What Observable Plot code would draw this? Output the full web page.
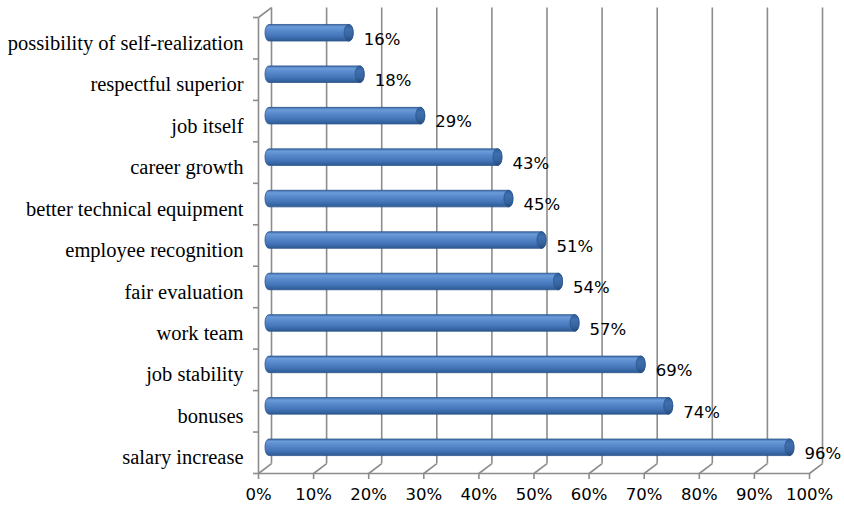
<!DOCTYPE html>
<html>
<head>
<meta charset="utf-8">
<script src="https://cdn.jsdelivr.net/npm/d3@7"></script>
<script src="https://cdn.jsdelivr.net/npm/@observablehq/plot@0.6"></script>
<style>
  html, body { margin: 0; padding: 0; background: #fff; }
</style>
</head>
<body>
<div id="chart"></div>
<script>
// Data (bottom to top)
const categories = [
  "salary increase",
  "bonuses",
  "job stability",
  "work team",
  "fair evaluation",
  "employee recognition",
  "better technical equipment",
  "career growth",
  "job itself",
  "respectful superior",
  "possibility of self-realization"
];
const values = [96, 74, 69, 57, 54, 51, 45, 43, 29, 18, 16];
const xTicks = [0, 10, 20, 30, 40, 50, 60, 70, 80, 90, 100];
const yTicks = d3.range(0, categories.length + 1);

const data = categories.map((c, i) => ({category: c, value: values[i], pos: i}));

// 3D depth offset, in scale units
const DX = 2.36;  // along x
const DY = 0.24;  // along y
const N = categories.length;

const grid = "#8c8c8c";

const chart = Plot.plot({
  width: 844,
  height: 513,
  marginLeft: 258,
  marginRight: 35,
  marginTop: 17,
  marginBottom: 40,
  x: {domain: [0, 100]},
  y: {domain: [0, N]},
  style: {background: "#fff"},
  marks: [
    // back wall gridlines
    Plot.link(xTicks, {x1: d => d + DX, x2: d => d + DX, y1: DY, y2: N + DY, stroke: grid, strokeWidth: 1.6}),
    // floor diagonals
    Plot.link(xTicks, {x1: d => d, x2: d => d + DX, y1: 0, y2: DY, stroke: grid, strokeWidth: 1.6}),
    // floor front line
    Plot.link([0], {x1: 0, x2: 100, y1: 0, y2: 0, stroke: grid, strokeWidth: 1.6}),
    // left wall front line and top diagonal
    Plot.link([0], {x1: 0, x2: 0, y1: 0, y2: N, stroke: grid, strokeWidth: 1.6}),
    Plot.link([0], {x1: 0, x2: DX, y1: N, y2: N + DY, stroke: grid, strokeWidth: 1.6}),
    // axes
    Plot.axisX({ticks: xTicks, tickSize: 6, tickPadding: 9, tickFormat: d => d + "%", stroke: grid, strokeWidth: 1.6,
      fill: "#000", fontSize: 16.5, fontFamily: "DejaVu Sans", label: null}),
    Plot.axisY({ticks: yTicks, tickSize: 5, tickFormat: () => "", stroke: grid, strokeWidth: 1.6, label: null}),
    // bars (cylinders)
    Plot.rect(data, {x1: 0, x2: "value", y1: d => d.pos + 0.5 + DY / 2 - 0.2, y2: d => d.pos + 0.5 + DY / 2 + 0.2,
      dx: 7, fill: "url(#barGrad)", stroke: "#2d568c", strokeWidth: 0.8, rx: 4, ry: 8}),
    Plot.rect(data, {x1: "value", x2: "value", insetLeft: -4.5, insetRight: -4.5, y1: d => d.pos + 0.5 + DY / 2 - 0.2, y2: d => d.pos + 0.5 + DY / 2 + 0.2,
      dx: 2.5, fill: "url(#capGrad)", stroke: "#2d568c", strokeWidth: 0.8, rx: 4.5, ry: 8}),
    // value labels
    Plot.text(data, {x: "value", y: d => d.pos + 0.5, text: d => d.value + "%", textAnchor: "start", dx: 17, dy: 1,
      fontSize: 16.5, fontFamily: "DejaVu Sans", fill: "#000"}),
    // category labels
    Plot.text(data, {x: 0, y: d => d.pos + 0.5, text: "category", textAnchor: "end", dx: -15, dy: 5,
      fontSize: 20.5, fontFamily: "Liberation Serif", fill: "#000"})
  ]
});

// gradients for the cylinder look
const ns = "http://www.w3.org/2000/svg";
const defs = document.createElementNS(ns, "defs");
function grad(id, stops) {
  const g = document.createElementNS(ns, "linearGradient");
  g.setAttribute("id", id);
  g.setAttribute("x1", "0"); g.setAttribute("y1", "0");
  g.setAttribute("x2", "0"); g.setAttribute("y2", "1");
  for (const [o, c] of stops) {
    const s = document.createElementNS(ns, "stop");
    s.setAttribute("offset", o);
    s.setAttribute("stop-color", c);
    g.appendChild(s);
  }
  defs.appendChild(g);
}
grad("barGrad", [[0, "#3f70b0"], [0.15, "#6c9bd9"], [0.35, "#5a8bcd"], [0.7, "#4375b8"], [1, "#2d5a94"]]);
grad("capGrad", [[0, "#2f5e9c"], [0.3, "#3f6fae"], [0.7, "#35649f"], [1, "#25497a"]]);
chart.insertBefore(defs, chart.firstChild);

document.getElementById("chart").appendChild(chart);
</script>
</body>
</html>
